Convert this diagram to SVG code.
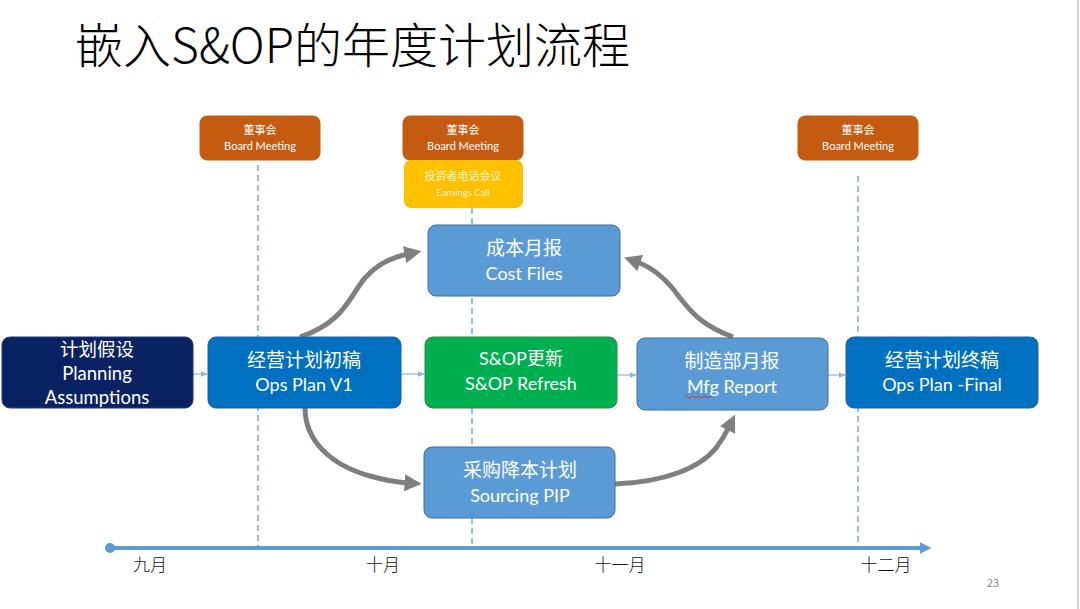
<svg xmlns="http://www.w3.org/2000/svg" width="1080" height="609" viewBox="0 0 1080 609">
<defs>
<style>
.cn{font-family:"Noto Sans CJK SC","Noto Sans",sans-serif;}
.t{font-family:Lato,"Noto Sans CJK SC",sans-serif;fill:#fff;text-anchor:middle;}
.board{fill:#C55A11;stroke:#C55A11;}
.big{font-size:18px;}
.sm{font-size:11px;}
.dash{stroke:#5B9BD5;stroke-width:1.3;stroke-dasharray:6,4;fill:none;}
.curve{stroke:#7F7F7F;stroke-width:5;fill:none;marker-end:url(#ga);}
.thin{stroke:#8EB4E3;stroke-width:1.2;fill:none;marker-end:url(#ba);}
.lb{fill:#5B9BD5;stroke:#41719C;stroke-width:1;}
.db{fill:#0070C0;stroke:#1F5FA8;stroke-width:1;}
</style>
<marker id="ga" viewBox="0 0 10 10" refX="2" refY="5" markerWidth="3.4" markerHeight="3.4" orient="auto">
<path d="M0,0 L10,5 L0,10 z" fill="#7F7F7F"/>
</marker>
<marker id="ba" viewBox="0 0 10 10" refX="9" refY="5" markerWidth="6" markerHeight="6" orient="auto">
<path d="M0,1 L10,5 L0,9 z" fill="#8EB4E3"/>
</marker>
<marker id="tl" viewBox="0 0 10 10" refX="2" refY="5" markerWidth="3" markerHeight="3" orient="auto">
<path d="M0,0 L10,5 L0,10 z" fill="#5B9BD5"/>
</marker>
</defs>
<rect width="1080" height="609" fill="#fff"/>
<line x1="1078" y1="0" x2="1078" y2="609" stroke="#BFBFBF" stroke-width="1.5"/>

<text x="75" y="63" class="cn" font-size="48" font-weight="300" fill="#000">嵌入S&amp;OP的年度计划流程</text>

<g id="guides">
<line x1="258" y1="165" x2="258" y2="546" class="dash"/>
<line x1="472" y1="208" x2="472" y2="548" class="dash"/>
<line x1="858" y1="176" x2="858" y2="546" class="dash"/>
</g>

<g id="timeline">
<line x1="110" y1="548" x2="922" y2="548" stroke="#5B9BD5" stroke-width="4" marker-end="url(#tl)"/>
<circle cx="110" cy="548" r="5" fill="#5B9BD5"/>
<text x="150" y="571" class="cn" font-size="17" font-weight="300" fill="#111" text-anchor="middle">九月</text>
<text x="383" y="571" class="cn" font-size="17" font-weight="300" fill="#111" text-anchor="middle">十月</text>
<text x="620" y="571" class="cn" font-size="17" font-weight="300" fill="#111" text-anchor="middle">十一月</text>
<text x="886" y="571" class="cn" font-size="17" font-weight="300" fill="#111" text-anchor="middle">十二月</text>
<text x="993" y="587" class="cn" font-size="11" fill="#888" text-anchor="middle">23</text>
</g>

<g id="board1">
<rect x="200" y="116" width="120" height="44" rx="7" class="board"/>
<text x="260" y="134" class="t sm">董事会</text>
<text x="260" y="150" class="t sm">Board Meeting</text>
</g>
<g id="board2">
<rect x="403" y="116" width="120" height="44" rx="7" class="board"/>
<text x="463" y="134" class="t sm">董事会</text>
<text x="463" y="150" class="t sm">Board Meeting</text>
</g>
<g id="earnings">
<rect x="404" y="160" width="119" height="48" rx="7" fill="#FFC000"/>
<text x="463" y="180" class="t" font-size="11" style="fill:#FFF2CC">投资者电话会议</text>
<text x="463" y="196" class="t" font-size="9.5" style="fill:#FFF2CC">Earnings Call</text>
</g>
<g id="board3">
<rect x="798" y="116" width="120" height="44" rx="7" class="board"/>
<text x="858" y="134" class="t sm">董事会</text>
<text x="858" y="150" class="t sm">Board Meeting</text>
</g>

<g id="connectors">
<line x1="193" y1="374" x2="207" y2="374" class="thin"/>
<line x1="401" y1="374" x2="424" y2="374" class="thin"/>
<line x1="617" y1="375" x2="636" y2="375" class="thin"/>
<line x1="828" y1="375" x2="845" y2="375" class="thin"/>
<path d="M300,337 C345,322 350,295 365,278 C378,263 393,257 408,254" class="curve"/>
<path d="M733,337 C700,325 690,310 680,298 C668,281 654,268 637,262" class="curve"/>
<path d="M305,408 C305,440 330,465 370,476 C384,480 395,482 408,483" class="curve"/>
<path d="M615,484 C665,482 700,468 716,448 C722,440 726,433 729,427" class="curve"/>
</g>

<g id="planning">
<rect x="2" y="337" width="191" height="71" rx="8" fill="#0B2262" stroke="#1F3A7A"/>
<text x="97" y="356" class="t" font-size="18.5">计划假设</text>
<text x="97" y="380" class="t" font-size="18.5">Planning</text>
<text x="97" y="404" class="t" font-size="18.5">Assumptions</text>
</g>
<g id="opsv1">
<rect x="208" y="337" width="193" height="71" rx="8" class="db"/>
<text x="304" y="367" class="t" font-size="19">经营计划初稿</text>
<text x="304" y="391" class="t" font-size="18">Ops Plan V1</text>
</g>
<g id="sop">
<rect x="425" y="337" width="192" height="71" rx="8" fill="#00B050" stroke="#2E8B3E"/>
<text x="521" y="365" class="t big">S&amp;OP更新</text>
<text x="521" y="390" class="t big">S&amp;OP Refresh</text>
</g>
<g id="mfg">
<rect x="637" y="338" width="191" height="72" rx="8" class="lb"/>
<text x="732" y="368" class="t" font-size="19">制造部月报</text>
<text x="732" y="393" class="t big">Mfg Report</text>
<path d="M685,397 q1.5,-2 3,0 t3,0 t3,0 t3,0 t3,0 t3,0 t3,0 t3,0 t3,0" stroke="#E03030" stroke-width="0.9" fill="none"/>
</g>
<g id="final">
<rect x="846" y="337" width="192" height="71" rx="8" class="db"/>
<text x="942" y="367" class="t" font-size="19">经营计划终稿</text>
<text x="942" y="391" class="t big">Ops Plan -Final</text>
</g>
<g id="cost">
<rect x="428" y="225" width="192" height="71" rx="8" class="lb"/>
<text x="524" y="255" class="t" font-size="19">成本月报</text>
<text x="524" y="280" class="t big">Cost Files</text>
</g>
<g id="sourcing">
<rect x="424" y="447" width="191" height="71" rx="8" class="lb"/>
<text x="520" y="477" class="t" font-size="19">采购降本计划</text>
<text x="520" y="502" class="t big">Sourcing PIP</text>
</g>
</svg>
